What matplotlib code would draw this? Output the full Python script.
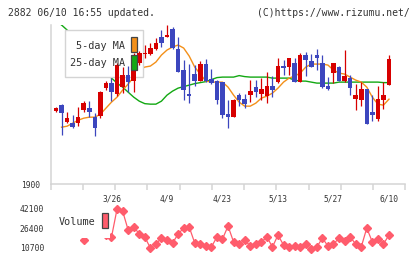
import matplotlib
matplotlib.use('Agg')
import matplotlib.pyplot as plt
from matplotlib.patches import Rectangle
from matplotlib.transforms import blended_transform_factory
import numpy as np

# daily candles, oldest first (61 trading days up to 6/10)
opens = [1973, 1979, 1962, 1961, 1961, 1974, 1976, 1967, 1968, 1996,
         2001, 1990, 1997, 2009, 2003, 2021, 2030, 2030, 2035, 2047,
         2047, 2055, 2035, 2014, 1990, 2010, 2003, 2020, 2005, 2003,
         2002, 1970, 1967, 1989, 1985, 1989, 1997, 1990, 1988, 1998,
         2002, 2018, 2017, 2021, 2002, 2029, 2023, 2029, 2021, 1998,
         2011, 2017, 2003, 2006, 1985, 1984, 1995, 1972, 1965, 1984,
         1999]
closes = [1976, 1971, 1966, 1957, 1967, 1981, 1972, 1956, 1992, 2001,
          1992, 2019, 2009, 2002, 2021, 2031, 2031, 2036, 2041, 2041,
          2049, 2036, 2012, 1994, 1988, 2003, 2020, 2003, 2001, 1984,
          1969, 1967, 1984, 1984, 1980, 1993, 1992, 1995, 1998, 1994,
          2018, 2016, 2026, 2002, 2029, 2024, 2017, 2026, 1997, 1995,
          2021, 2003, 2008, 1996, 1989, 1995, 1960, 1969, 1985, 1989,
          2025]
highs = [1977, 1980, 1972, 1969, 1977, 1983, 1983, 1971, 1993, 2003,
         2006, 2021, 2017, 2018, 2031, 2033, 2039, 2041, 2046, 2054,
         2059, 2057, 2047, 2024, 2020, 2019, 2023, 2025, 2015, 2004,
         2002, 1984, 1985, 1991, 1990, 2004, 2004, 2006, 2012, 2008,
         2026, 2024, 2026, 2026, 2031, 2032, 2030, 2035, 2029, 2007,
         2021, 2018, 2034, 2009, 2000, 2002, 1995, 1989, 1998, 2002,
         2029]
lows = [1972, 1949, 1961, 1956, 1958, 1972, 1967, 1948, 1966, 1994,
        1983, 1988, 1991, 1992, 1992, 2019, 2026, 2029, 2034, 2037,
        2047, 2035, 2012, 1984, 1981, 1998, 2003, 2002, 2000, 1980,
        1966, 1956, 1967, 1978, 1976, 1982, 1987, 1984, 1981, 1987,
        2001, 2009, 2009, 2002, 2002, 2008, 2017, 2014, 1996, 1994,
        2001, 2003, 2002, 1989, 1974, 1978, 1960, 1963, 1963, 1975,
        1999]
ma5 = [np.nan, 1957, 1958, 1961, 1964, 1966, 1967, 1967, 1970, 1976,
       1982, 1987, 1994, 2000, 2007, 2014, 2017, 2018, 2022, 2029,
       2034, 2037, 2039, 2036, 2028, 2017, 2010, 2003, 2002, 2002,
       2002, 1997, 1989, 1982, 1978, 1978, 1981, 1986, 1988, 1991,
       1996, 2002, 2006, 2008, 2011, 2017, 2020, 2020, 2020, 2019,
       2014, 2011, 2010, 2007, 2004, 2002, 1997, 1987, 1980, 1979,
       1985]
ma25 = [2063, 2059, 2054, 2049, 2043, 2037, 2031, 2025, 2018, 2012,
        2006, 2001, 1997, 1992, 1987, 1983, 1980.5, 1980, 1980, 1983,
        1989, 1993, 1996, 1997.5, 1999, 2000.5, 2001.5, 2002.5, 2004.5, 2006.5,
        2007, 2007, 2007, 2008.5, 2007.5, 2007, 2007, 2007, 2007, 2006,
        2006, 2006, 2006, 2004, 2003, 2003, 2002, 2001, 2001, 2001,
        2001, 2002, 2002, 2002, 2002, 2002, 2002, 2002, 2002, 2001.5,
        2001.5]
volume = [29000, 27000, 30000, 26000, 28000, 17100, 27000, 29000, 26000, 21000,
          19500, 42100, 40500, 25200, 28000, 21900, 19600, 10700, 13900, 18700,
          17100, 14700, 21900, 26800, 27600, 14700, 13900, 12300, 11500, 19600,
          17900, 28400, 15500, 13900, 17100, 12300, 13900, 15500, 19600, 11500,
          21100, 13100, 11500, 12300, 11500, 13900, 9900, 11500, 18700, 12300,
          13900, 18700, 16300, 19600, 13900, 11500, 26800, 15500, 17900, 13900,
          21100]
date_labels = ['3/26', '4/9', '4/23', '5/13', '5/27', '6/10']
date_pos = [10, 20, 30, 40, 50, 60]
vol_ticks = [10700, 26400, 42100]

RED = '#d70000'
BLUE = '#3c46be'
ORANGE = '#f39019'
GREEN = '#13a813'
PINK = '#ff5c6c'
GRAY = '#d4d4d4'
TXT = '#333333'
MONO = 'DejaVu Sans Mono'

W, H = 420, 259


def fx(px):
    return px / W


def fy(py):
    return 1 - py / H


fig = plt.figure(figsize=(4.2, 2.59), dpi=100)

x = np.arange(len(opens))
o = np.array(opens)
c = np.array(closes)
up = c >= o
colors = np.where(up, RED, BLUE)
xlim = (-0.955, 62.94)

# price panel
ax = fig.add_axes([fx(50.7), fy(184.3), fx(405.3) - fx(50.7), fy(25) - fy(184.3)])
ax.plot(x, ma25, color=GREEN, lw=1.0, zorder=2)
ax.plot(x, ma5, color=ORANGE, lw=1.0, zorder=2)
ax.vlines(x, lows, highs, colors=colors, lw=0.9, zorder=4)
ax.bar(x, np.maximum(np.abs(c - o), 1), bottom=np.minimum(o, c), width=0.82,
       color=colors, zorder=4)
ax.set_xlim(*xlim)
ax.set_ylim(1900, 2059)
ax.set_xticks(np.linspace(xlim[0], xlim[1], 12))
ax.set_xticklabels([])
ax.set_yticks([1900])
ax.set_yticklabels(['1900'], fontsize=5.7, family=MONO, color=TXT)
ax.tick_params(axis='y', length=0, pad=8)
ax.tick_params(axis='x', length=4, width=1.1, color=GRAY, direction='out')
for s in ['top', 'right']:
    ax.spines[s].set_visible(False)
for s in ['left', 'bottom']:
    ax.spines[s].set_color(GRAY)
    ax.spines[s].set_linewidth(1.1)

tr = blended_transform_factory(ax.transData, fig.transFigure)
for p, lab in zip(date_pos, date_labels):
    ax.text(p, fy(198.5), lab, transform=tr, ha='center', va='center',
            fontsize=5.7, family=MONO, color=TXT)

# MA legend
ax.add_patch(Rectangle((fx(65), fy(77)), fx(78), 47 / H, transform=fig.transFigure,
                       facecolor='white', edgecolor=GRAY, lw=1.0, zorder=3, clip_on=False))
ax.add_patch(Rectangle((fx(131), fy(52)), fx(6), 15 / H, transform=fig.transFigure,
                       facecolor=ORANGE, edgecolor='#444444', lw=0.9, zorder=5, clip_on=False))
ax.add_patch(Rectangle((fx(131), fy(70)), fx(6), 15 / H, transform=fig.transFigure,
                       facecolor=GREEN, edgecolor='#444444', lw=0.9, zorder=5, clip_on=False))
fig.text(fx(125), fy(46), '5-day MA', ha='right', va='center', fontsize=7.3,
         family=MONO, color=TXT, zorder=6)
fig.text(fx(125), fy(63), '25-day MA', ha='right', va='center', fontsize=7.3,
         family=MONO, color=TXT, zorder=6)

# volume panel
ax2 = fig.add_axes([fx(50.7), fy(255), fx(405.3) - fx(50.7), 55 / H])
ax2.plot(x, volume, color=PINK, lw=0.9, marker='D', ms=4.5, zorder=2)
ax2.set_xlim(*xlim)
ax2.set_ylim(5064, 49346)
ax2.set_xticks([])
ax2.set_yticks(vol_ticks)
ax2.set_yticklabels([str(v) for v in vol_ticks], fontsize=5.8, family=MONO, color=TXT)
ax2.tick_params(axis='y', length=0, pad=4.6)
for s in ax2.spines.values():
    s.set_visible(False)
ax2.patch.set_alpha(0)

ax2.add_patch(Rectangle((fx(51), fy(238)), fx(59), 35 / H, transform=fig.transFigure,
                        facecolor='white', edgecolor='none', zorder=3, clip_on=False))
ax2.add_patch(Rectangle((fx(102), fy(228)), fx(6), 15 / H, transform=fig.transFigure,
                        facecolor=PINK, edgecolor='#444444', lw=0.9, zorder=5, clip_on=False))
fig.text(fx(95), fy(222), 'Volume', ha='right', va='center', fontsize=7.3,
         family=MONO, color=TXT, zorder=6)

# header
fig.text(fx(8), fy(12.7), '2882 06/10 16:55 updated.', ha='left', va='center',
         fontsize=7, family=MONO, color=TXT)
fig.text(fx(410), fy(12.7), '(C)https://www.rizumu.net/', ha='right', va='center',
         fontsize=7, family=MONO, color=TXT)

fig.savefig('out.png', dpi=100)
